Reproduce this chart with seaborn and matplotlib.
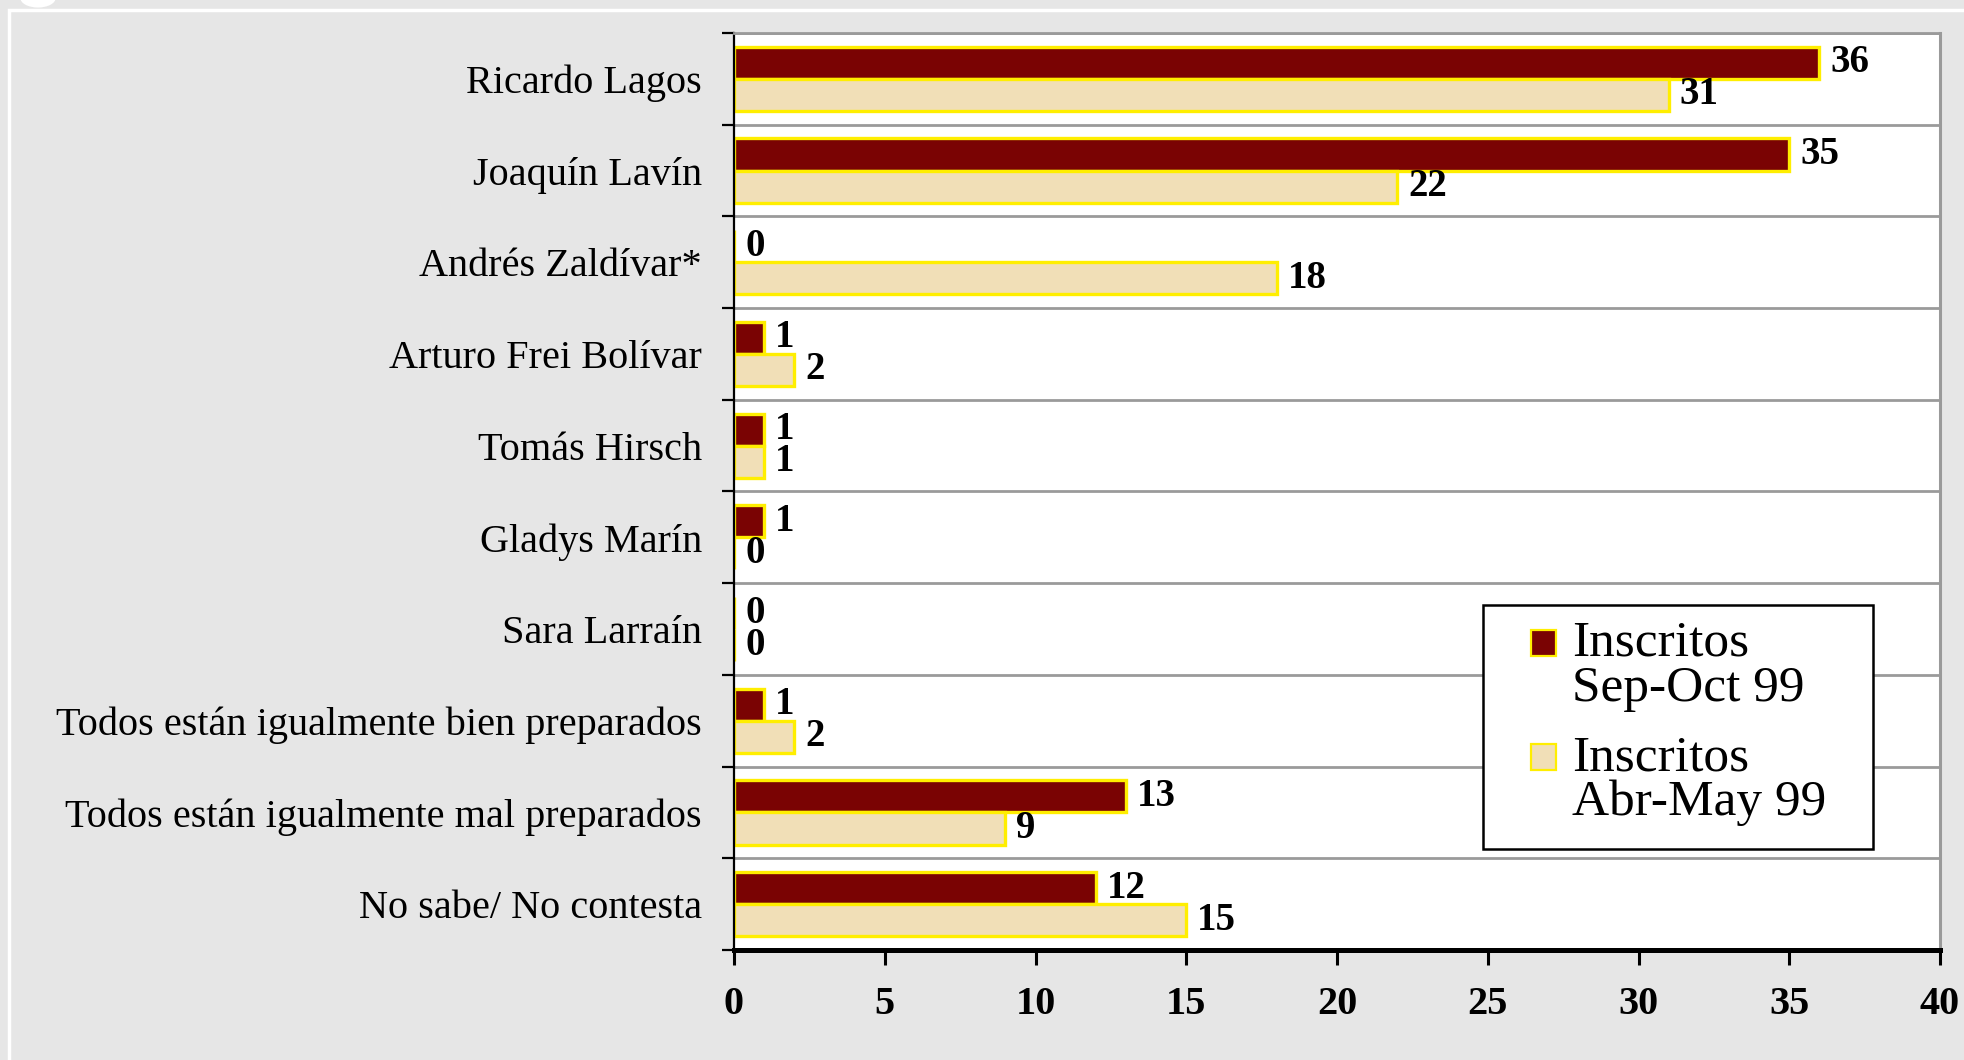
import numpy as np
import pandas as pd
import matplotlib
matplotlib.use('Agg')
import matplotlib.pyplot as plt
import seaborn as sns
from matplotlib.patches import Patch, Rectangle, Circle
from matplotlib.legend_handler import HandlerPatch

# data
categorias = ["Ricardo Lagos", "Joaquín Lavín", "Andrés Zaldívar*", "Arturo Frei Bolívar",
              "Tomás Hirsch", "Gladys Marín", "Sara Larraín",
              "Todos están igualmente bien preparados",
              "Todos están igualmente mal preparados", "No sabe/ No contesta"]
sep_oct = [36, 35, 0, 1, 1, 1, 0, 1, 13, 12]
abr_may = [31, 22, 18, 2, 1, 0, 0, 2, 9, 15]
series = ["Inscritos\nSep-Oct 99", "Inscritos\nAbr-May 99"]
x_ticks = [0, 5, 10, 15, 20, 25, 30, 35, 40]

df = pd.DataFrame({
    'cat': categorias * 2,
    'val': sep_oct + abr_may,
    'serie': [series[0]] * len(categorias) + [series[1]] * len(categorias),
})

sns.set_style('white')
plt.rcParams['font.family'] = ['Liberation Serif', 'DejaVu Serif']
plt.rcParams['text.color'] = 'black'
plt.rcParams['xtick.color'] = 'black'
plt.rcParams['ytick.color'] = 'black'

dark = '#7a0303'
light = '#f1dfb7'
yellow = '#ffee00'

fig = plt.figure(figsize=(19.65, 10.6), dpi=100, facecolor='#e6e6e6')
ax = fig.add_axes([734 / 1965, 1 - 950 / 1060, (1940 - 734) / 1965, (950 - 33) / 1060])

sns.barplot(data=df, y='cat', x='val', hue='serie', orient='h', palette=[dark, light],
            saturation=1, width=0.7, edgecolor=yellow, linewidth=2.4, legend=False, ax=ax)

for cont in ax.containers:
    ax.bar_label(cont, padding=8, fontsize=28, fontweight='bold', color='black')

ax.set_xlim(0, 40)
ax.set_ylim(len(categorias) - 0.5, -0.5)
ax.set_xticks(x_ticks)
ax.set_xticklabels([str(t) for t in x_ticks], fontsize=29, fontweight='bold')
ax.set_xlabel('')
ax.set_ylabel('')
ax.tick_params(axis='x', direction='out', length=11, width=2.2, pad=15, bottom=True)
ax.tick_params(axis='y', which='major', length=0, pad=23, labelsize=29, left=False)
ax.set_yticks(np.arange(-0.5, len(categorias) + 0.5, 1), minor=True)
ax.tick_params(axis='y', which='minor', direction='out', length=8.5, width=1.6, left=True)
ax.grid(False)
ax.grid(which='minor', axis='y', color='#9a9a9a', lw=2)

ax.set_facecolor('white')
ax.spines['left'].set_color('black')
ax.spines['left'].set_linewidth(1.6)
ax.spines['bottom'].set_color('black')
ax.spines['bottom'].set_linewidth(3.6)
ax.spines['top'].set_color('#9a9a9a')
ax.spines['top'].set_linewidth(2)
ax.spines['right'].set_color('#9a9a9a')
ax.spines['right'].set_linewidth(2.2)
for s in ax.spines.values():
    s.set_visible(True)


def square(legend, orig_handle, xdescent, ydescent, width, height, fontsize):
    s = 18.5
    return Rectangle((width - s - xdescent, -ydescent + 0.55 * fontsize), s, s)


# legend box drawn as its own frame, entries placed inside it
box_l, box_r = (1483 - 734) / 1206, (1873 - 734) / 1206
box_b, box_t = (950 - 849) / 917, (950 - 605) / 917
ax.add_patch(Rectangle((box_l, box_b), box_r - box_l, box_t - box_b, transform=ax.transAxes,
                       facecolor='white', edgecolor='black', lw=1.8, zorder=4))

handles = [Patch(facecolor=dark, edgecolor=yellow, linewidth=1.6),
           Patch(facecolor=light, edgecolor=yellow, linewidth=1.6)]
leg = ax.legend(handles, series, loc='upper left', bbox_to_anchor=(box_l, box_t),
                borderaxespad=0, fontsize=37, frameon=False,
                handlelength=1.13, handleheight=0.7, handletextpad=0.3,
                borderpad=0.3, labelspacing=0.45,
                handler_map={Patch: HandlerPatch(patch_func=square)})
leg.set_zorder(5)
for t in leg.get_texts():
    t.set_linespacing(0.95)

# white panel frame
fig.add_artist(Rectangle((9 / 1965, -0.5), 2, 0.5 + 1 - 10 / 1060, fill=False,
                         edgecolor='white', lw=2.5, transform=fig.transFigure))
fig.add_artist(Circle((38 / 1965, 1 + 2 / 1060), 0.009, facecolor='white', edgecolor='none',
                      transform=fig.transFigure))

fig.savefig('out.png', dpi=100, facecolor=fig.get_facecolor())
